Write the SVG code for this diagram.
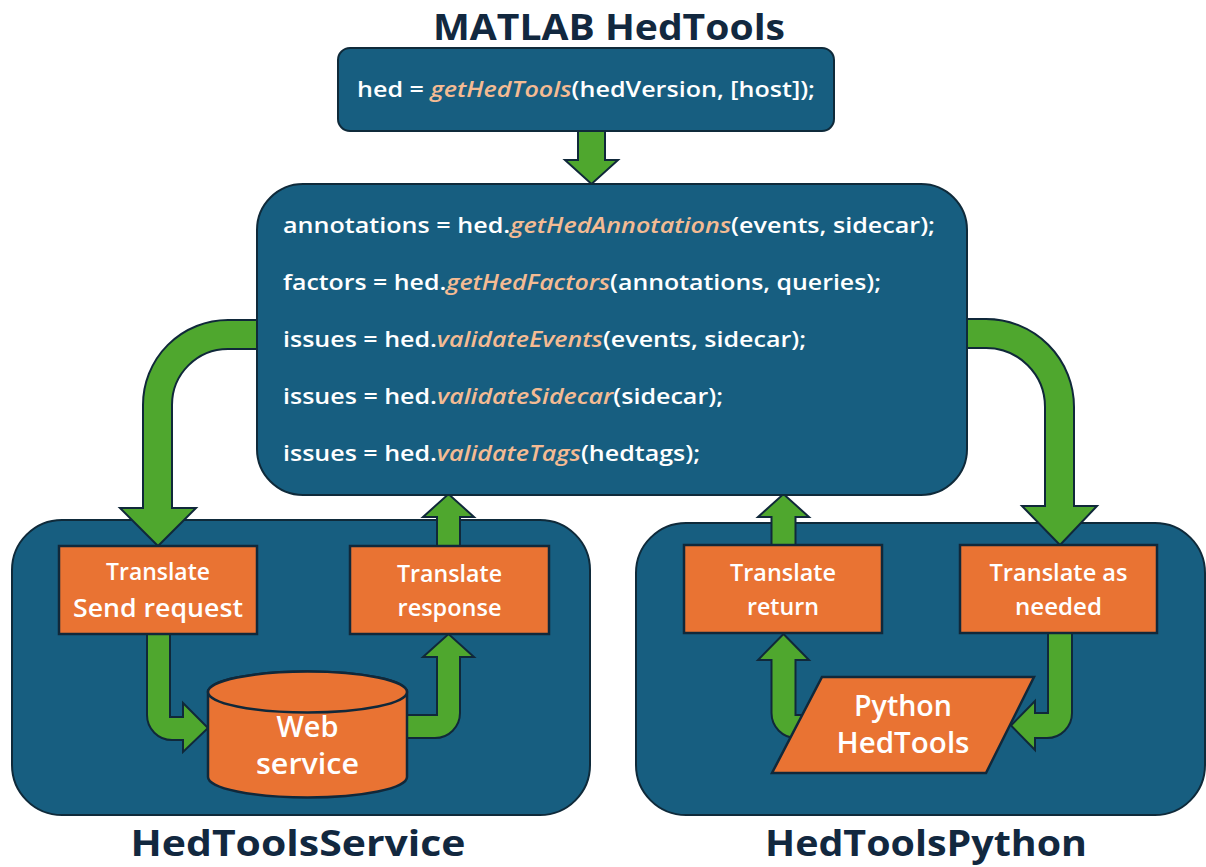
<svg xmlns="http://www.w3.org/2000/svg" width="1206" height="867" viewBox="0 0 1206 867">
<style>
.title{font-family:"Open Sans","Liberation Sans",sans-serif;font-weight:700;fill:#12283f;font-size:36px;text-anchor:middle}
.box{fill:#175e80;stroke:#0f2a3a;stroke-width:2}
.org{fill:#e97333;stroke:#10283a;stroke-width:2.5}
.arr{fill:#4fa72e;stroke:#10283a;stroke-width:2;stroke-linejoin:miter}
.code{font-family:"Open Sans","Liberation Sans",sans-serif;font-weight:600;fill:#ffffff;font-size:22px}
.fn{fill:#f4bb93;font-style:italic}
.lbl{font-family:"Open Sans","Liberation Sans",sans-serif;font-weight:600;fill:#ffffff;text-anchor:middle}
</style>
<rect width="1206" height="867" fill="#ffffff"/>

<g id="containers">
  <rect id="service-container" class="box" x="12" y="520" width="578" height="295" rx="50"/>
  <rect id="python-container" class="box" x="636" y="523" width="569" height="292" rx="50"/>
</g>

<g id="connectors">
  <path class="arr" d="M578 131 L605 131 L605 160 L618 160 L591.5 184 L565 160 L578 160 Z"/>
  <path class="arr" d="M260 320 L228 320 A85 85 0 0 0 143 405 L143 508 L120 508 L158 546 L196 508 L172 508 L172 405 A56 56 0 0 1 228 349 L260 349 Z"/>
  <path class="arr" d="M964 319 L986 319 A88 88 0 0 1 1074 407 L1074 506 L1097 506 L1060 545 L1022 506 L1045 506 L1045 407 A59 59 0 0 0 986 348 L964 348 Z"/>
  <path class="arr" d="M437 547 L437 517 L423 517 L448.5 494 L474 517 L460 517 L460 547 Z"/>
  <path class="arr" d="M771.5 546 L771.5 517 L758 517 L783.5 494 L809 517 L795.5 517 L795.5 546 Z"/>
  <path class="arr" d="M147 633 L170 633 L170 717 L183 717 L183 703 L208 728 L183 752 L183 740 L172 740 A25 25 0 0 1 147 715 Z"/>
  <path class="arr" d="M400 715 L437 715 L437 657 L423 657 L448.5 634 L474 657 L460 657 L460 713 A25 25 0 0 1 435 738 L400 738 Z"/>
  <path class="arr" d="M795.5 660 L809 660 L783.5 634 L758 660 L771.5 660 L771.5 713 A25 25 0 0 0 796.5 738 L830 738 L830 715 L795.5 715 Z"/>
  <path class="arr" d="M1048 632 L1072 632 L1072 713 A25 25 0 0 1 1047 738 L1035 738 L1035 750 L1011 725.5 L1035 701 L1035 713 L1048 713 Z"/>
</g>

<g id="title-matlab">
  <text class="title" x="609" y="40" textLength="352" lengthAdjust="spacingAndGlyphs">MATLAB HedTools</text>
</g>

<g id="node-gethedtools">
  <rect class="box" x="338" y="48" width="496" height="83" rx="12"/>
  <text class="code" x="357" y="97" textLength="458" lengthAdjust="spacingAndGlyphs">hed = <tspan class="fn">getHedTools</tspan>(hedVersion, [host]);</text>
</g>

<g id="node-methods">
  <rect class="box" x="257" y="184" width="710" height="311" rx="46"/>
  <text class="code" x="283" y="233" textLength="652" lengthAdjust="spacingAndGlyphs">annotations = hed.<tspan class="fn">getHedAnnotations</tspan>(events, sidecar);</text>
  <text class="code" x="283" y="290" textLength="598" lengthAdjust="spacingAndGlyphs">factors = hed.<tspan class="fn">getHedFactors</tspan>(annotations, queries);</text>
  <text class="code" x="283" y="347" textLength="523" lengthAdjust="spacingAndGlyphs">issues = hed.<tspan class="fn">validateEvents</tspan>(events, sidecar);</text>
  <text class="code" x="283" y="404" textLength="440" lengthAdjust="spacingAndGlyphs">issues = hed.<tspan class="fn">validateSidecar</tspan>(sidecar);</text>
  <text class="code" x="283" y="461" textLength="417" lengthAdjust="spacingAndGlyphs">issues = hed.<tspan class="fn">validateTags</tspan>(hedtags);</text>
</g>

<g id="node-send-request">
  <rect class="org" x="59" y="546" width="198" height="88"/>
  <text class="lbl" x="158" y="580" font-size="23" textLength="104" lengthAdjust="spacingAndGlyphs">Translate</text>
  <text class="lbl" x="158" y="617" font-size="26" textLength="170" lengthAdjust="spacingAndGlyphs">Send request</text>
</g>

<g id="node-translate-response">
  <rect class="org" x="350" y="546" width="199" height="88"/>
  <text class="lbl" x="449.5" y="582" font-size="23" textLength="105" lengthAdjust="spacingAndGlyphs">Translate</text>
  <text class="lbl" x="449.5" y="616" font-size="23" textLength="104" lengthAdjust="spacingAndGlyphs">response</text>
</g>

<g id="node-web-service">
  <path class="org" d="M208 692 L208 777 A99.5 20.5 0 0 0 407 777 L407 692 A99.5 20.5 0 0 0 208 692 Z"/>
  <ellipse class="org" cx="307.5" cy="692" rx="99.5" ry="20.5"/>
  <text class="lbl" x="307.5" y="737" font-size="29" textLength="62" lengthAdjust="spacingAndGlyphs">Web</text>
  <text class="lbl" x="307.5" y="774" font-size="29" textLength="103" lengthAdjust="spacingAndGlyphs">service</text>
</g>

<g id="node-translate-return">
  <rect class="org" x="684" y="545" width="198" height="88"/>
  <text class="lbl" x="783" y="581" font-size="23" textLength="106" lengthAdjust="spacingAndGlyphs">Translate</text>
  <text class="lbl" x="783" y="615" font-size="23" textLength="72" lengthAdjust="spacingAndGlyphs">return</text>
</g>

<g id="node-translate-needed">
  <rect class="org" x="960" y="545" width="197" height="88"/>
  <text class="lbl" x="1058.5" y="581" font-size="23" textLength="138" lengthAdjust="spacingAndGlyphs">Translate as</text>
  <text class="lbl" x="1058.5" y="615" font-size="23" textLength="87" lengthAdjust="spacingAndGlyphs">needed</text>
</g>

<g id="node-python-hedtools">
  <polygon class="org" points="822,677 1034,677 986,773 772,773"/>
  <text class="lbl" x="903" y="716" font-size="29" textLength="98" lengthAdjust="spacingAndGlyphs">Python</text>
  <text class="lbl" x="903" y="753" font-size="29" textLength="133" lengthAdjust="spacingAndGlyphs">HedTools</text>
</g>

<g id="title-service">
  <text class="title" x="298" y="856" textLength="335" lengthAdjust="spacingAndGlyphs">HedToolsService</text>
</g>
<g id="title-python">
  <text class="title" x="926" y="856" textLength="322" lengthAdjust="spacingAndGlyphs">HedToolsPython</text>
</g>
</svg>
